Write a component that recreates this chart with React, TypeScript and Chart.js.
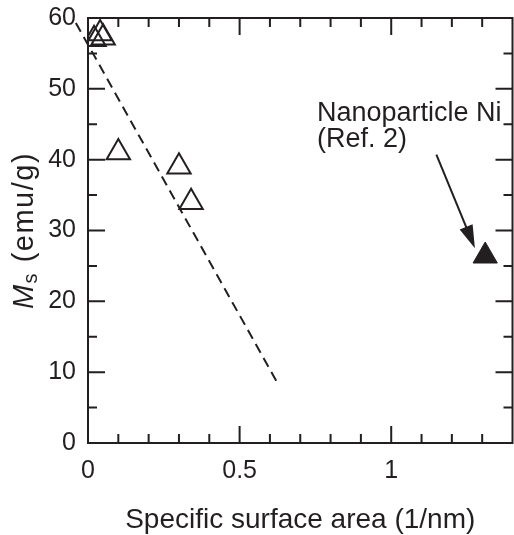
import React, { useEffect, useRef } from 'react';
import { Chart, registerables } from 'chart.js';

Chart.register(...registerables);

// Bulk / thin-film samples (open triangles)
const sampleArea = [0.02, 0.04, 0.05, 0.1, 0.3, 0.34];
const sampleMs = [57.0, 57.8, 57.2, 41.0, 39.0, 34.0];

// Nanoparticle Ni from Ref. 2 (filled triangle)
const nanoArea = [1.31];
const nanoMs = [26.4];

// Linear trend drawn as a dashed guide
const trendArea = [-0.04, 0.622];
const trendMs = [59.3, 8.7];

// Axis ticks
const xMajorTicks = [0, 0.5, 1];
const yMajorTicks = [0, 10, 20, 30, 40, 50, 60];
const xMinorStep = 0.1;
const yMinorStep = 5;

// Callout
const noteLines = ['Nanoparticle Ni', '(Ref. 2)'];
const noteAnchor = [0.755, 45.5];
const arrowFrom = [1.149, 40.7];
const arrowTo = [1.276, 27.5];

const xTitle = 'Specific surface area (1/nm)';
const yTitleSymbol = 'M';
const yTitleSub = 's';
const yTitleUnit = ' (emu/g)';

const INK = '#231f20';
const FONT = '"Liberation Sans", Arial, Helvetica, sans-serif';

const near = (a: number, b: number) => Math.abs(a - b) < 1e-6;

const framePlugin = {
  id: 'frameAndNotes',
  beforeDatasetsDraw(chart: any) {
    const { ctx, chartArea: a, scales } = chart;
    const x = scales.x;
    const y = scales.y;
    ctx.save();
    ctx.strokeStyle = INK;
    ctx.lineWidth = 2;
    ctx.strokeRect(a.left, a.top, a.right - a.left, a.bottom - a.top);
    ctx.beginPath();
    for (let i = 0; i * xMinorStep <= x.max + 1e-9; i++) {
      const v = i * xMinorStep;
      const px = x.getPixelForValue(v);
      if (px <= a.left + 1 || px >= a.right - 1) continue;
      const len = xMajorTicks.some((t) => near(t, v)) ? 17 : 9;
      ctx.moveTo(px, a.bottom);
      ctx.lineTo(px, a.bottom - len);
      ctx.moveTo(px, a.top);
      ctx.lineTo(px, a.top + len);
    }
    for (let i = 0; i * yMinorStep <= y.max + 1e-9; i++) {
      const v = i * yMinorStep;
      const py = y.getPixelForValue(v);
      if (py >= a.bottom - 1 || py <= a.top + 1) continue;
      const len = yMajorTicks.some((t) => near(t, v)) ? 17 : 9;
      ctx.moveTo(a.left, py);
      ctx.lineTo(a.left + len, py);
      ctx.moveTo(a.right, py);
      ctx.lineTo(a.right - len, py);
    }
    ctx.stroke();
    ctx.restore();
  },
  afterDatasetsDraw(chart: any) {
    const { ctx, scales } = chart;
    const x = scales.x;
    const y = scales.y;
    ctx.save();
    // arrow
    const x0 = x.getPixelForValue(arrowFrom[0]);
    const y0 = y.getPixelForValue(arrowFrom[1]);
    const x1 = x.getPixelForValue(arrowTo[0]);
    const y1 = y.getPixelForValue(arrowTo[1]);
    const ang = Math.atan2(y1 - y0, x1 - x0);
    const headLen = 23;
    const headHalf = 7;
    const bx = x1 - Math.cos(ang) * headLen;
    const by = y1 - Math.sin(ang) * headLen;
    ctx.strokeStyle = INK;
    ctx.fillStyle = INK;
    ctx.lineWidth = 2;
    ctx.beginPath();
    ctx.moveTo(x0, y0);
    ctx.lineTo(bx + Math.cos(ang) * 4, by + Math.sin(ang) * 4);
    ctx.stroke();
    ctx.beginPath();
    ctx.moveTo(x1, y1);
    ctx.lineTo(bx - Math.sin(ang) * headHalf, by + Math.cos(ang) * headHalf);
    ctx.lineTo(bx + Math.sin(ang) * headHalf, by - Math.cos(ang) * headHalf);
    ctx.closePath();
    ctx.fill();

    // callout text
    ctx.font = `27px ${FONT}`;
    ctx.textAlign = 'left';
    ctx.textBaseline = 'alphabetic';
    const tx = x.getPixelForValue(noteAnchor[0]);
    const ty = y.getPixelForValue(noteAnchor[1]);
    noteLines.forEach((line, i) => ctx.fillText(line, tx, ty + i * 26));
    ctx.restore();
  },
  afterDraw(chart: any) {
    const { ctx, chartArea: a } = chart;
    ctx.save();
    ctx.fillStyle = INK;
    // x title
    ctx.font = `28px ${FONT}`;
    ctx.textAlign = 'center';
    ctx.textBaseline = 'alphabetic';
    ctx.fillText(xTitle, (a.left + a.right) / 2, 528);

    // y title, rotated, with italic symbol and subscript
    const mainFont = `29px ${FONT}`;
    const symFont = `italic 29px ${FONT}`;
    const subFont = `20px ${FONT}`;
    (ctx as any).letterSpacing = '1.5px';
    ctx.font = symFont;
    const wM = ctx.measureText(yTitleSymbol).width;
    ctx.font = subFont;
    const wS = ctx.measureText(yTitleSub).width;
    ctx.font = mainFont;
    const wU = ctx.measureText(yTitleUnit).width;
    const total = wM + wS + wU;
    ctx.translate(33, (a.top + a.bottom) / 2);
    ctx.rotate(-Math.PI / 2);
    ctx.textAlign = 'left';
    let cx = -total / 2;
    ctx.font = symFont;
    ctx.fillText(yTitleSymbol, cx, 0);
    cx += wM;
    ctx.font = subFont;
    ctx.fillText(yTitleSub, cx, 4);
    cx += wS;
    ctx.font = mainFont;
    ctx.fillText(yTitleUnit, cx, 0);
    ctx.restore();
  },
};

const clearPadding = (s: any) => {
  s.paddingTop = 0;
  s.paddingBottom = 0;
  s.paddingLeft = 0;
  s.paddingRight = 0;
};

export default function App() {
  const canvasRef = useRef<HTMLCanvasElement | null>(null);

  useEffect(() => {
    if (!canvasRef.current) return;
    const chart = new Chart(canvasRef.current, {
      type: 'scatter',
      data: {
        datasets: [
          {
            label: 'samples',
            data: sampleArea.map((v, i) => ({ x: v, y: sampleMs[i] })),
            pointStyle: 'triangle',
            pointRadius: 13.5,
            pointBorderWidth: 2,
            pointBorderColor: INK,
            pointBackgroundColor: 'rgba(0,0,0,0)',
          },
          {
            label: 'Nanoparticle Ni',
            data: nanoArea.map((v, i) => ({ x: v, y: nanoMs[i] })),
            pointStyle: 'triangle',
            pointRadius: 14,
            pointBorderWidth: 1,
            pointBorderColor: INK,
            pointBackgroundColor: INK,
          },
          {
            type: 'line',
            label: 'trend',
            data: trendArea.map((v, i) => ({ x: v, y: trendMs[i] })),
            borderColor: INK,
            borderWidth: 2,
            borderDash: [10, 6],
            pointRadius: 0,
            fill: false,
            clip: false,
          } as any,
        ],
      },
      options: {
        responsive: false,
        animation: false,
        devicePixelRatio: 1,
        layout: { autoPadding: false, padding: { left: 0, right: 1.5, top: 18, bottom: 0 } },
        plugins: {
          legend: { display: false },
          tooltip: { enabled: false },
        },
        events: [],
        scales: {
          x: {
            type: 'linear',
            min: 0,
            max: 1.4,
            grid: { display: false, drawTicks: false },
            border: { display: false },
            afterBuildTicks: (s: any) => {
              s.ticks = xMajorTicks.map((value) => ({ value }));
            },
            afterFit: (s: any) => {
              s.height = 92;
              clearPadding(s);
            },
            ticks: {
              padding: 13,
              color: INK,
              font: { family: FONT, size: 25 },
              maxRotation: 0,
              callback: (v: any) => String(v),
            },
          },
          y: {
            type: 'linear',
            min: 0,
            max: 60,
            grid: { display: false, drawTicks: false },
            border: { display: false },
            afterBuildTicks: (s: any) => {
              s.ticks = yMajorTicks.map((value) => ({ value }));
            },
            afterFit: (s: any) => {
              s.width = 88;
              clearPadding(s);
            },
            ticks: {
              padding: 12,
              color: INK,
              font: { family: FONT, size: 25 },
              callback: (v: any) => String(v),
            },
          },
        },
      },
      plugins: [framePlugin],
    } as any);
    return () => chart.destroy();
  }, []);

  return (
    <div style={{ position: 'fixed', left: 0, top: 0, width: 514, height: 535, background: '#fff' }}>
      <canvas ref={canvasRef} width={514} height={535} style={{ width: 514, height: 535, display: 'block' }} />
    </div>
  );
}
